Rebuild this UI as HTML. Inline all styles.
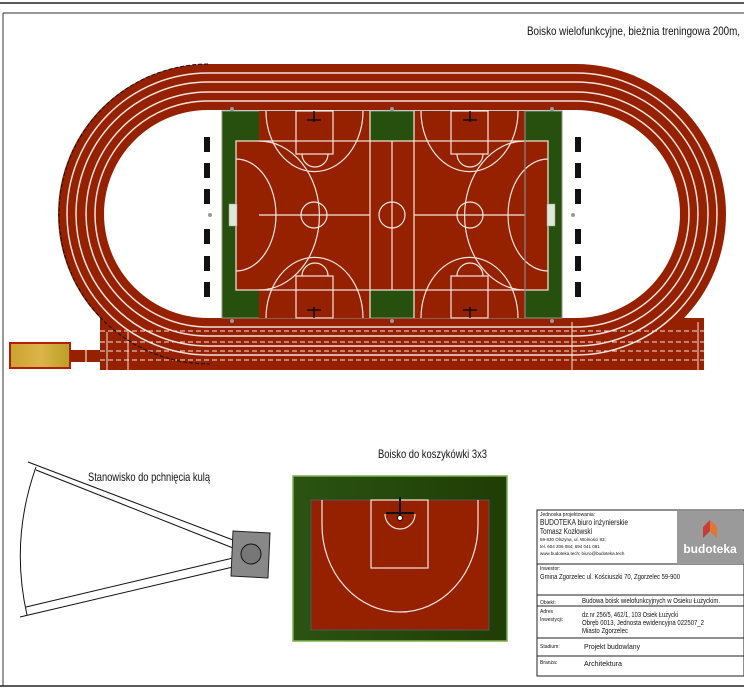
<!DOCTYPE html>
<html><head><meta charset="utf-8"><style>
html,body{margin:0;padding:0;background:#fff;width:744px;height:690px;overflow:hidden}
svg{display:block}
text{font-family:"Liberation Sans",sans-serif}
</style></head><body>
<svg width="744" height="690" viewBox="0 0 744 690">
<defs>
<linearGradient id="y" x1="0" x2="1"><stop offset="0" stop-color="#c9a22e"/><stop offset=".5" stop-color="#dcb54a"/><stop offset="1" stop-color="#b9a024"/></linearGradient>
<linearGradient id="g" x1="0" x2="1"><stop offset="0" stop-color="#2b5312"/><stop offset="1" stop-color="#1f3d05"/></linearGradient>
</defs>
<line x1="0" y1="3" x2="744" y2="3" stroke="#222" stroke-width="1.5"/>
<line x1="3" y1="13" x2="744" y2="13" stroke="#333" stroke-width="1"/>
<line x1="3" y1="13" x2="3" y2="686" stroke="#333" stroke-width="1"/>
<line x1="0" y1="686" x2="744" y2="686" stroke="#222" stroke-width="1.5"/>
<text x="527" y="35" font-size="12" fill="#111" textLength="213" lengthAdjust="spacingAndGlyphs">Boisko wielofunkcyjne, bieżnia treningowa 200m,</text>

<!-- track -->
<path d="M208,64 H576 A150,150 0 0 1 576,364 H208 A150,150 0 0 1 208,64 Z M208,110 A104,104 0 0 0 208,318 H576 A104,104 0 0 0 576,110 Z" fill="#952100" fill-rule="evenodd"/>
<rect x="100" y="318" width="604" height="52" fill="#952100"/>
<g fill="none" stroke="#f4e3dc" stroke-width="1.5">
<path d="M208,73 H576 A141,141 0 0 1 576,355 H208 A141,141 0 0 1 208,73 Z"/>
<path d="M208,82 H576 A132,132 0 0 1 576,346 H208 A132,132 0 0 1 208,82 Z"/>
<path d="M208,92 H576 A122,122 0 0 1 576,336 H208 A122,122 0 0 1 208,92 Z"/>
<path d="M208,101 H576 A113,113 0 0 1 576,327 H208 A113,113 0 0 1 208,101 Z"/>
</g>
<g stroke="#f4e3dc" stroke-width="1" stroke-dasharray="5,3">
<line x1="100" y1="331" x2="704" y2="331"/><line x1="100" y1="342" x2="704" y2="342"/>
<line x1="100" y1="351" x2="704" y2="351"/><line x1="100" y1="360" x2="704" y2="360"/>
</g>
<line x1="128" y1="332" x2="128" y2="370" stroke="#f4e3dc"/>
<line x1="107" y1="332" x2="107" y2="370" stroke="#f4e3dc"/>
<line x1="572" y1="322" x2="572" y2="370" stroke="#f4e3dc"/>
<line x1="698" y1="322" x2="698" y2="370" stroke="#f4e3dc"/>
<path d="M208,64 A150,150 0 0 0 210,364" fill="none" stroke="#111" stroke-dasharray="4,2"/>
<!-- shot put runway -->
<rect x="10" y="343" width="60" height="25" fill="url(#y)" stroke="#b61b10" stroke-width="2"/>
<rect x="70" y="350" width="30" height="12" fill="#952100"/>
<line x1="86" y1="350" x2="86" y2="362" stroke="#fff"/>

<!-- field -->
<rect x="222" y="111" width="340" height="207" fill="#27500e" stroke="#8a9a80"/>
<rect x="259" y="111" width="111" height="207" fill="#952100"/>
<rect x="414" y="111" width="111" height="207" fill="#952100"/>
<rect x="236" y="141" width="312" height="149" fill="#952100"/>
<g fill="none" stroke="#f3e6e0" stroke-width="1.2">
<rect x="236" y="141" width="312" height="149"/>
<line x1="370" y1="111" x2="370" y2="318"/><line x1="414" y1="111" x2="414" y2="318"/>
<line x1="392" y1="141" x2="392" y2="290"/>
<circle cx="392" cy="215" r="13"/>
<line x1="259" y1="215" x2="370" y2="215"/><line x1="414" y1="215" x2="525" y2="215"/>
<circle cx="314" cy="215" r="13"/><circle cx="470" cy="215" r="13"/>
<path d="M236,159 A40,56 0 0 1 236,271 M548,159 A40,56 0 0 0 548,271"/>
<path d="M259,141 A60,74 0 0 1 259,290 M525,141 A60,74 0 0 0 525,290"/>
<rect x="296" y="111" width="37" height="43"/><rect x="451" y="111" width="37" height="43"/>
<rect x="296" y="276" width="37" height="42"/><rect x="451" y="276" width="37" height="42"/>
<path d="M302,154 A13,13 0 0 0 328,154 M457,154 A13,13 0 0 0 483,154 M302,276 A13,13 0 0 1 328,276 M457,276 A13,13 0 0 1 483,276"/>
<path d="M266,111 A48,60 0 0 0 363,111 M421,111 A48,60 0 0 0 518,111 M266,318 A48,60 0 0 1 363,318 M421,318 A48,60 0 0 1 518,318"/>
</g>
<line x1="525" y1="111" x2="525" y2="318" stroke="#888" stroke-width="1.2"/>
<g stroke="#111" stroke-width="1.5">
<line x1="314" y1="111" x2="314" y2="122"/><line x1="307" y1="120" x2="321" y2="120"/>
<line x1="470" y1="111" x2="470" y2="122"/><line x1="463" y1="120" x2="477" y2="120"/>
<line x1="314" y1="307" x2="314" y2="318"/><line x1="307" y1="310" x2="321" y2="310"/>
<line x1="470" y1="307" x2="470" y2="318"/><line x1="463" y1="310" x2="477" y2="310"/>
</g>
<rect x="229" y="204" width="8" height="22" fill="#dfe8d8" stroke="#999" stroke-width=".5"/>
<rect x="547" y="204" width="8" height="22" fill="#dfe8d8" stroke="#999" stroke-width=".5"/>
<g fill="#111">
<rect x="204" y="137" width="6" height="15"/><rect x="204" y="163" width="6" height="15"/><rect x="204" y="189" width="6" height="15"/>
<rect x="204" y="229" width="6" height="15"/><rect x="204" y="256" width="6" height="15"/><rect x="204" y="282" width="6" height="15"/>
<rect x="575" y="137" width="6" height="15"/><rect x="575" y="163" width="6" height="15"/><rect x="575" y="189" width="6" height="15"/>
<rect x="575" y="229" width="6" height="15"/><rect x="575" y="256" width="6" height="15"/><rect x="575" y="282" width="6" height="15"/>
</g>
<g fill="#999"><circle cx="232" cy="109" r="2"/><circle cx="392" cy="109" r="2"/><circle cx="552" cy="109" r="2"/>
<circle cx="232" cy="321" r="2"/><circle cx="392" cy="321" r="2"/><circle cx="552" cy="321" r="2"/>
<circle cx="210" cy="215" r="2"/><circle cx="573" cy="215" r="2"/></g>

<!-- shot put -->
<text x="88" y="481" font-size="12" fill="#111" textLength="122" lengthAdjust="spacingAndGlyphs">Stanowisko do pchnięcia kulą</text>
<g fill="none" stroke="#111" stroke-width="1">
<path d="M28,462 L233,540 M36,470 L233,548 M233,558 L26,607 M233,567 L20,617"/>
<path d="M36,467 Q10,540 27,615"/>
</g>
<polygon points="233,531 270,533 268,578 231,576" fill="#888" stroke="#222"/>
<circle cx="251" cy="554" r="10" fill="#777" stroke="#111"/>

<!-- 3x3 -->
<text x="378" y="458" font-size="12" fill="#111" textLength="109" lengthAdjust="spacingAndGlyphs">Boisko do koszykówki 3x3</text>
<rect x="293" y="476" width="214" height="165" fill="url(#g)" stroke="#7fb04c" stroke-width="1.5"/>
<rect x="311" y="500" width="178" height="130" fill="#952100" stroke="#555"/>
<g fill="none" stroke="#f3e6e0" stroke-width="1.2">
<rect x="371" y="500" width="57" height="68"/>
<path d="M385,514 A15,15 0 0 0 415,514"/>
<path d="M322,500 V525 A78,87 0 0 0 478,525 V500"/>
</g>
<line x1="400" y1="497" x2="400" y2="518" stroke="#111" stroke-width="2"/>
<line x1="386" y1="513" x2="414" y2="513" stroke="#111" stroke-width="2"/>
<circle cx="400" cy="518" r="2.5" fill="#fff" stroke="#111"/>

<!-- title block -->
<g fill="none" stroke="#222" stroke-width="1">
<rect x="537" y="510" width="207" height="166"/>
<line x1="537" y1="564" x2="744" y2="564"/><line x1="537" y1="595" x2="744" y2="595"/>
<line x1="537" y1="606" x2="744" y2="606"/><line x1="537" y1="638" x2="744" y2="638"/>
<line x1="537" y1="656" x2="744" y2="656"/>
</g>
<rect x="677" y="511" width="67" height="53" fill="#9a9a9a"/>
<polygon points="703,527 710,520 717,527 717,538 710,531 703,538" fill="#c93a3a"/>
<polygon points="710,520 717,527 717,538 710,531" fill="#e07830"/>
<text x="710" y="553" font-size="12" font-weight="bold" fill="#fff" text-anchor="middle">budoteka</text>
<g fill="#111">
<text x="540" y="516" font-size="5">Jednoska projektowania:</text>
<text x="540" y="525" font-size="8" textLength="88" lengthAdjust="spacingAndGlyphs">BUDOTEKA biuro inżynierskie</text>
<text x="540" y="534" font-size="8" textLength="52" lengthAdjust="spacingAndGlyphs">Tomasz Kozłowski</text>
<text x="540" y="541" font-size="4.5">59-830 Olszyna, ul. Wolności 83;</text>
<text x="540" y="548" font-size="4.5">tel. 604 206 084; 694 041 081</text>
<text x="540" y="555" font-size="4.5">www.budoteka.tech; biuro@budoteka.tech</text>
<text x="540" y="570" font-size="5">Inwestor:</text>
<text x="540" y="579" font-size="7.5" textLength="140" lengthAdjust="spacingAndGlyphs">Gmina Zgorzelec ul. Kościuszki 70, Zgorzelec 59-900</text>
<text x="540" y="604" font-size="5">Obiekt:</text>
<text x="582" y="603" font-size="7.5" textLength="138" lengthAdjust="spacingAndGlyphs">Budowa boisk wielofunkcyjnych w Osieku Łużyckim.</text>
<text x="540" y="613" font-size="5">Adres</text>
<text x="540" y="621" font-size="5">Inwestycji:</text>
<text x="582" y="617" font-size="7.5" textLength="96" lengthAdjust="spacingAndGlyphs">dz.nr 256/5, 462/1, 103 Osiek Łużycki</text>
<text x="582" y="625" font-size="7.5" textLength="122" lengthAdjust="spacingAndGlyphs">Obręb 0013, Jednosta ewidencyjna 022507_2</text>
<text x="582" y="633" font-size="7.5" textLength="46" lengthAdjust="spacingAndGlyphs">Miasto Zgorzelec</text>
<text x="540" y="648" font-size="5">Stadium:</text>
<text x="584" y="649" font-size="7.5" textLength="56" lengthAdjust="spacingAndGlyphs">Projekt budowlany</text>
<text x="540" y="664" font-size="5">Branża:</text>
<text x="584" y="666" font-size="7.5" textLength="38" lengthAdjust="spacingAndGlyphs">Architektura</text>
</g>
</svg>
</body></html>
